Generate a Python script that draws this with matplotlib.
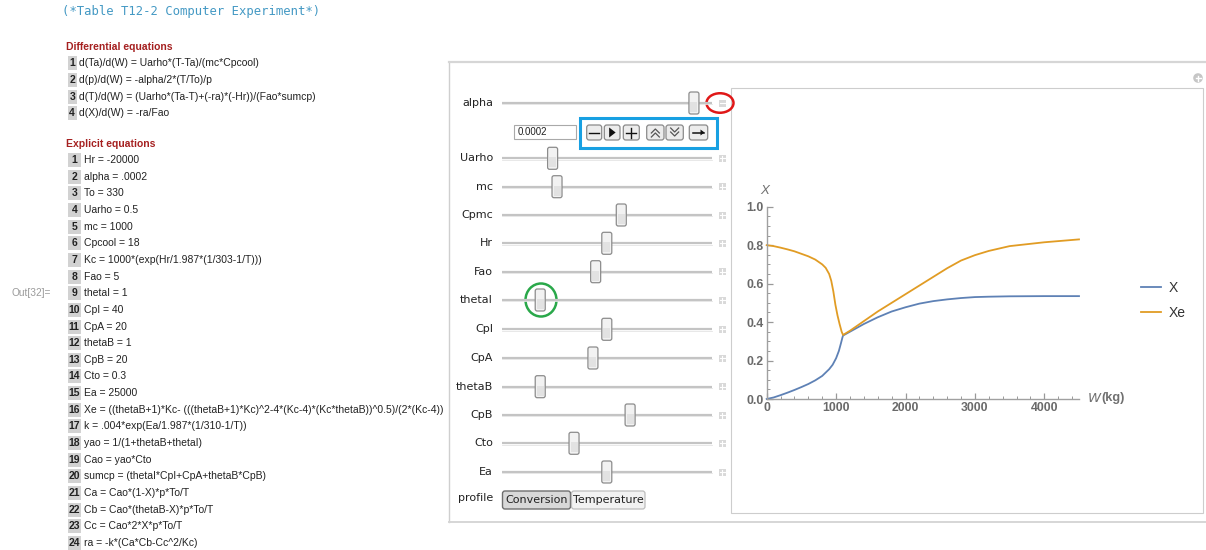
import matplotlib
matplotlib.use("Agg")
import matplotlib.pyplot as plt
from matplotlib.patches import FancyBboxPatch, Rectangle, Ellipse, Circle, Polygon

# ---------------- data ----------------
title_text = "(*Table T12-2 Computer Experiment*)"
diff_header = "Differential equations"
diff_eqs = [
    "d(Ta)/d(W) = Uarho*(T-Ta)/(mc*Cpcool)",
    "d(p)/d(W) = -alpha/2*(T/To)/p",
    "d(T)/d(W) = (Uarho*(Ta-T)+(-ra)*(-Hr))/(Fao*sumcp)",
    "d(X)/d(W) = -ra/Fao",
]
expl_header = "Explicit equations"
expl_eqs = [
    "Hr = -20000",
    "alpha = .0002",
    "To = 330",
    "Uarho = 0.5",
    "mc = 1000",
    "Cpcool = 18",
    "Kc = 1000*(exp(Hr/1.987*(1/303-1/T)))",
    "Fao = 5",
    "thetaI = 1",
    "CpI = 40",
    "CpA = 20",
    "thetaB = 1",
    "CpB = 20",
    "Cto = 0.3",
    "Ea = 25000",
    "Xe = ((thetaB+1)*Kc- (((thetaB+1)*Kc)^2-4*(Kc-4)*(Kc*thetaB))^0.5)/(2*(Kc-4))",
    "k = .004*exp(Ea/1.987*(1/310-1/T))",
    "yao = 1/(1+thetaB+thetaI)",
    "Cao = yao*Cto",
    "sumcp = (thetaI*CpI+CpA+thetaB*CpB)",
    "Ca = Cao*(1-X)*p*To/T",
    "Cb = Cao*(thetaB-X)*p*To/T",
    "Cc = Cao*2*X*p*To/T",
    "ra = -k*(Ca*Cb-Cc^2/Kc)",
]
out_label = "Out[32]="

slider_labels = ["alpha", "Uarho", "mc", "Cpmc", "Hr", "Fao", "thetaI",
                 "CpI", "CpA", "thetaB", "CpB", "Cto", "Ea"]
slider_values = [0.914, 0.241, 0.262, 0.568, 0.499, 0.446, 0.182,
                 0.499, 0.433, 0.182, 0.610, 0.343, 0.499]
alpha_input = "0.0002"
profile_label = "profile"
profile_options = ["Conversion", "Temperature"]

W_X = [0, 100, 200, 300, 400, 500, 600, 700, 800, 900, 950, 1000, 1040,
       1070, 1090, 1100, 1200, 1400, 1600, 1800, 2000, 2200, 2400, 2600,
       2800, 3000, 3200, 3500, 4000, 4500]
X_vals = [0, 0.008, 0.02, 0.033, 0.047, 0.062, 0.078, 0.097, 0.12, 0.155,
          0.178, 0.212, 0.25, 0.29, 0.318, 0.33, 0.35, 0.39, 0.425,
          0.455, 0.477, 0.496, 0.509, 0.518, 0.525, 0.53, 0.532, 0.534,
          0.535, 0.535]
W_Xe = [0, 100, 200, 300, 400, 500, 600, 700, 800, 850, 900, 930, 960,
        990, 1020, 1050, 1080, 1100, 1200, 1400, 1600, 1800, 2000, 2200,
        2400, 2600, 2800, 3000, 3200, 3500, 4000, 4500]
Xe_vals = [0.80, 0.795, 0.787, 0.778, 0.768, 0.755, 0.742, 0.725, 0.70,
           0.682, 0.65, 0.615, 0.56, 0.49, 0.435, 0.39, 0.35, 0.333, 0.355,
           0.405, 0.455, 0.50, 0.545, 0.59, 0.635, 0.68, 0.72, 0.748, 0.77,
           0.795, 0.815, 0.83]
series_names = ["X", "Xe"]
series_colors = ["#5E81B5", "#E19C24"]
x_ticks = [0, 1000, 2000, 3000, 4000]
y_ticks = [0.0, 0.2, 0.4, 0.6, 0.8, 1.0]

# ---------------- figure ----------------
FW, FH = 1206, 550
fig = plt.figure(figsize=(FW / 100, FH / 100), dpi=100)
fig.patch.set_facecolor("white")
ov = fig.add_axes([0, 0, 1, 1])
ov.set_xlim(0, FW)
ov.set_ylim(FH, 0)
ov.axis("off")

TXT = "Liberation Sans"
EQ_FS = 7.45

# title
ov.text(62, 12, title_text, family="DejaVu Sans Mono", fontsize=8.8,
        color="#4499c4", va="center", ha="left")

# left notebook content
ov.text(66, 47, diff_header, family=TXT, fontsize=EQ_FS, fontweight="bold",
        color="#a52020", va="center")
for i, eq in enumerate(diff_eqs):
    y = 63.3 + i * 16.6
    ov.add_patch(Rectangle((67.5, y - 7), 9.5, 14, color="#d2d2d2", lw=0))
    ov.text(72.2, y, str(i + 1), family=TXT, fontsize=EQ_FS, color="#222",
            ha="center", va="center", fontweight="bold")
    ov.text(79, y, eq, family=TXT, fontsize=EQ_FS, color="#222", va="center")

ov.text(66, 144, expl_header, family=TXT, fontsize=EQ_FS, fontweight="bold",
        color="#a52020", va="center")
for i, eq in enumerate(expl_eqs):
    y = 160 + i * 16.65
    ov.add_patch(Rectangle((67.5, y - 7), 13.5, 14, color="#d2d2d2", lw=0))
    ov.text(74.3, y, str(i + 1), family=TXT, fontsize=EQ_FS, color="#222",
            ha="center", va="center", fontweight="bold")
    ov.text(84.5, y, eq, family=TXT, fontsize=EQ_FS, color="#222", va="center")

ov.text(12, 293, out_label, family=TXT, fontsize=7.3, color="#9a9a9a",
        va="center")

# outer manipulate panel
ov.plot([448.5, 448.5], [62, 522], color="#cfcfcf", lw=1)
ov.plot([448.5, FW], [62, 62], color="#d6d6d6", lw=1.6)
ov.plot([448.5, FW], [522, 522], color="#d6d6d6", lw=1.4)
# inner plot panel
ov.add_patch(Rectangle((731, 88), 472, 425, fill=False, ec="#cdcdcd", lw=0.8))
# top-right small circle icon
ov.add_patch(Circle((1198, 78), 4.8, color="#c6c6c6", lw=0))
ov.plot([1195.5, 1200.5], [78, 78], color="white", lw=1)
ov.plot([1198, 1198], [75.5, 80.5], color="white", lw=1)

# sliders
TR0, TR1 = 502, 712
slider_y = [103, 158.3, 186.7, 215, 243.3, 271.7, 300, 329.3, 358,
            386.7, 415, 443.3, 472]
for lab, val, y in zip(slider_labels, slider_values, slider_y):
    ov.text(493, y, lab, family="DejaVu Sans", fontsize=8, color="#222",
            ha="right", va="center")
    ov.plot([TR0, TR1], [y, y], color="#c4c4c4", lw=1.6, solid_capstyle="butt")
    ov.plot([TR0, TR1], [y + 1.2, y + 1.2], color="#e4e4e4", lw=0.6)
    cx = TR0 + val * (TR1 - TR0)
    ov.add_patch(FancyBboxPatch((cx - 5, y - 11), 10, 22,
                                boxstyle="round,pad=0,rounding_size=2",
                                fc="#f2f2f2", ec="#8c8c8c", lw=0.9, zorder=3))
    ov.add_patch(Rectangle((cx - 3.5, y - 1), 7, 10, color="#e2e2e2", lw=0,
                           zorder=3.5))
    # plus / minus icon
    ov.add_patch(Rectangle((718.5, y - 3.5), 7, 7, color="#d9d9d9", lw=0))
    ov.plot([719.5, 724.5], [y, y], color="white", lw=0.8)
    if lab != "alpha":
        ov.plot([722, 722], [y - 2.5, y + 2.5], color="white", lw=0.8)

# alpha control row
ov.add_patch(Rectangle((513.5, 125), 62, 14, fc="white", ec="#a9a9a9", lw=0.8))
ov.text(517.5, 132.2, alpha_input, family=TXT, fontsize=7, color="#222",
        va="center")
btns = [(586.7, 601.7), (604.3, 620), (623.3, 639.3), (646.7, 664),
        (666, 683.3), (689.3, 707.7)]
for k, (x0, x1) in enumerate(btns):
    ov.add_patch(FancyBboxPatch((x0, 125), x1 - x0, 15,
                                boxstyle="round,pad=0,rounding_size=2.5",
                                fc="#ececec", ec="#8a8a8a", lw=0.9))
    cx = (x0 + x1) / 2
    cy = 132.5
    if k == 0:
        ov.plot([cx - 5, cx + 5], [cy, cy], color="#111", lw=1)
    elif k == 1:
        ov.add_patch(Polygon([[cx - 3, cy - 5], [cx - 3, cy + 5], [cx + 3.5, cy]],
                             closed=True, color="#111", lw=0))
    elif k == 2:
        ov.plot([cx - 5, cx + 5], [cy, cy], color="#111", lw=1)
        ov.plot([cx, cx], [cy - 5, cy + 5], color="#111", lw=1)
    elif k == 3:
        for dy in (-1.5, 2.5):
            ov.plot([cx - 4, cx, cx + 4], [cy + dy + 2, cy + dy - 2, cy + dy + 2],
                    color="#555", lw=0.9)
    elif k == 4:
        for dy in (-2.5, 1.5):
            ov.plot([cx - 4, cx, cx + 4], [cy + dy - 2, cy + dy + 2, cy + dy - 2],
                    color="#555", lw=0.9)
    else:
        ov.plot([cx - 6, cx + 5], [cy, cy], color="#111", lw=1.1)
        ov.add_patch(Polygon([[cx + 2, cy - 3], [cx + 2, cy + 3], [cx + 6, cy]],
                             closed=True, color="#111", lw=0))

# annotation marks
ov.add_patch(Rectangle((580, 118), 137, 30, fill=False, ec="#18a0e2", lw=2.2))
ov.add_patch(Ellipse((720, 103), 27, 19.5, fill=False, ec="#e01818", lw=1.8))
ov.add_patch(Ellipse((541, 300), 31, 33, fill=False, ec="#2aa84a", lw=1.8))

# profile setter
ov.text(493, 498.3, profile_label, family="DejaVu Sans", fontsize=8,
        color="#222", ha="right", va="center")
ov.add_patch(FancyBboxPatch((502.5, 491), 68, 18,
                            boxstyle="round,pad=0,rounding_size=2.5",
                            fc="#d8d8d8", ec="#6f6f6f", lw=1.0))
ov.add_patch(FancyBboxPatch((571.5, 491), 73.5, 18,
                            boxstyle="round,pad=0,rounding_size=2.5",
                            fc="#f2f2f2", ec="#bdbdbd", lw=0.9))
ov.text(536.5, 500.2, profile_options[0], family="DejaVu Sans", fontsize=8,
        color="#222", ha="center", va="center")
ov.text(608.2, 500.2, profile_options[1], family="DejaVu Sans", fontsize=8,
        color="#222", ha="center", va="center")

# ---------------- plot ----------------
x0p, x1p = 766.7, 1079.0
y0p, y1p = 399.0, 206.7
ax = fig.add_axes([x0p / FW, (FH - y0p) / FH, (x1p - x0p) / FW, (y0p - y1p) / FH])
ax.set_facecolor("none")
ax.plot(W_X, X_vals, color=series_colors[0], lw=1.3, label=series_names[0],
        clip_on=False)
ax.plot(W_Xe, Xe_vals, color=series_colors[1], lw=1.3, label=series_names[1],
        clip_on=False)
ax.set_xlim(0, 4500)
ax.set_ylim(0, 1.0)
for s in ("top", "right"):
    ax.spines[s].set_visible(False)
for s in ("left", "bottom"):
    ax.spines[s].set_color("#a0a0a0")
    ax.spines[s].set_linewidth(1.0)
ax.set_xticks(x_ticks)
ax.set_xticks(range(0, 4501, 200), minor=True)
ax.set_yticks(y_ticks)
ax.set_yticks([i * 0.05 for i in range(21)], minor=True)
ax.set_xticklabels([str(v) for v in x_ticks])
ax.set_yticklabels([f"{v:.1f}" for v in y_ticks])
ax.tick_params(which="major", direction="in", length=4, width=0.9,
               color="#999999", labelcolor="#6a6a6a", labelsize=8.8, pad=2)
ax.tick_params(which="minor", direction="in", length=2.3, width=0.7,
               color="#999999")
for lbl in ax.get_xticklabels() + ax.get_yticklabels():
    lbl.set_family(TXT)
    lbl.set_fontweight("bold")

ov.text(765, 191, "X", family=TXT, fontsize=9.5, style="italic",
        color="#707070", ha="center", va="center")
ov.text(1087, 398, "$W$", family=TXT, fontsize=9.5, color="#707070",
        ha="left", va="center")
ov.text(1101, 398, "(kg)", family=TXT, fontsize=9.2, fontweight="bold",
        color="#707070", ha="left", va="center")

leg = fig.legend(loc="center left", bbox_to_anchor=(1128 / FW, 1 - 300.5 / FH),
                 frameon=False, handlelength=1.5, handletextpad=0.5,
                 labelspacing=0.75, prop={"family": TXT, "size": 10})
for t in leg.get_texts():
    t.set_color("#333333")

fig.savefig("out.png", dpi=100)
